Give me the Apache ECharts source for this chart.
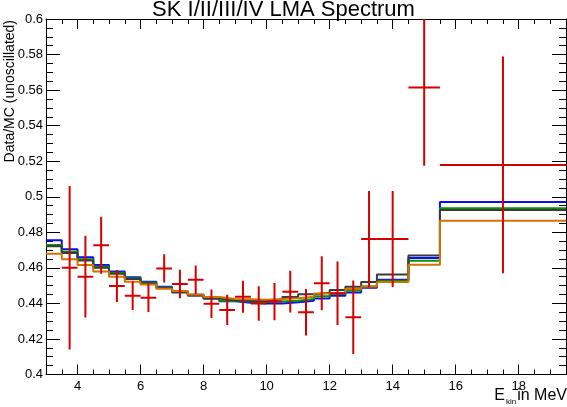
<!DOCTYPE html>
<html>
<head>
<meta charset="utf-8">
<script src="https://cdn.jsdelivr.net/npm/echarts@6/dist/echarts.min.js"></script>
<style>
    html, body { margin: 0; padding: 0; background: #fff; }
    #chart { width: 567px; height: 407px; }
</style>
</head>
<body>
<div id="chart"></div>
<script>
// bin edges of the MC histograms (MeV)
const binEdges = [3.0, 3.5, 4.0, 4.5, 5.0, 5.5, 6.0, 6.5, 7.0, 7.5, 8.0, 8.5, 9.0,
    9.5, 10.0, 10.5, 11.0, 11.5, 12.0, 12.5, 13.0, 13.5, 14.5, 15.5, 19.5];

// MC predictions, one value per bin
const blueMC = [0.4755, 0.4704, 0.4659, 0.4616, 0.4579, 0.4547, 0.4522, 0.4494, 0.4468, 0.4448,
    0.4428, 0.4412, 0.4404, 0.4400, 0.4400, 0.4406, 0.4415, 0.4428, 0.4443, 0.4462, 0.4488,
    0.4533, 0.4655, 0.4970];
const greenMC = [0.4729, 0.4691, 0.4648, 0.4607, 0.4573, 0.4541, 0.4518, 0.4490, 0.4467, 0.4447,
    0.4429, 0.4415, 0.4410, 0.4408, 0.4410, 0.4415, 0.4425, 0.4440, 0.4453, 0.4472, 0.4495,
    0.4528, 0.4640, 0.4935];
const blackMC = [0.4721, 0.4684, 0.4642, 0.4601, 0.4567, 0.4537, 0.4513, 0.4487, 0.4462, 0.4443,
    0.4428, 0.4418, 0.4414, 0.4414, 0.4424, 0.4436, 0.4451, 0.4460, 0.4475, 0.4494, 0.4520,
    0.4562, 0.4670, 0.4925];
const orangeMC = [0.4680, 0.4648, 0.4616, 0.4579, 0.4550, 0.4522, 0.4507, 0.4483, 0.4470, 0.4450,
    0.4436, 0.4425, 0.4423, 0.4420, 0.4425, 0.4429, 0.4438, 0.4456, 0.4460, 0.4481, 0.4495,
    0.4520, 0.4618, 0.4865];

// data points
const dataX = [3.75, 4.25, 4.75, 5.25, 5.75, 6.25, 6.75, 7.25, 7.75, 8.25, 8.75, 9.25, 9.75,
    10.25, 10.75, 11.25, 11.75, 12.25, 12.75, 13.25, 14.0, 15.0, 17.5];
const dataXErr = [0.25, 0.25, 0.25, 0.25, 0.25, 0.25, 0.25, 0.25, 0.25, 0.25, 0.25, 0.25, 0.25,
    0.25, 0.25, 0.25, 0.25, 0.25, 0.25, 0.25, 0.5, 0.5, 2.0];
const dataY = [0.4600, 0.4550, 0.4727, 0.4498, 0.4443, 0.4432, 0.4597, 0.4509, 0.4533, 0.4398,
    0.4363, 0.4438, 0.4400, 0.4410, 0.4466, 0.4350, 0.4513, 0.4457, 0.4322, 0.4762, 0.4762,
    0.5614, 0.5179];
const dataYErr = [0.046, 0.023, 0.016, 0.009, 0.008, 0.008, 0.008, 0.008, 0.008, 0.008,
    0.0085, 0.009, 0.0097, 0.0105, 0.0117, 0.0131, 0.0152, 0.0179, 0.0207, 0.027, 0.027,
    0.044, 0.061];

const majorX = [4, 6, 8, 10, 12, 14, 16, 18];
const font = 'Liberation Sans, Arial, sans-serif';

function stepData(vals) {
    let d = [];
    for (let i = 0; i < vals.length; i++) {
        d.push([binEdges[i], vals[i]]);
    }
    d.push([binEdges[binEdges.length - 1], vals[vals.length - 1]]);
    return d;
}

function histSeries(name, vals, color) {
    return {
        name: name,
        type: 'line',
        step: 'end',
        symbol: 'none',
        clip: true,
        xAxisIndex: 0,
        yAxisIndex: 0,
        lineStyle: { width: 2, color: color },
        itemStyle: { color: color },
        data: stepData(vals)
    };
}

const red = '#d60000';

let chart = echarts.init(document.getElementById('chart'));
let option = {
    animation: false,
    backgroundColor: '#fff',
    title: {
        text: 'SK I/II/III/IV LMA Spectrum',
        left: 'center',
        top: -1,
        padding: 0,
        textStyle: { fontSize: 22, fontWeight: 'normal', color: '#000', fontFamily: font }
    },
    grid: {
        left: 46,
        top: 19,
        width: 520,
        height: 355.5,
        containLabel: false,
        outerBoundsMode: 'none'
    },
    xAxis: [
        {
            type: 'value', min: 3, max: 19.5, position: 'bottom',
            axisLine: { show: true, lineStyle: { color: '#000', width: 1 } },
            axisTick: { show: true, inside: true, length: 10, customValues: majorX, lineStyle: { color: '#000' } },
            axisLabel: { show: true, customValues: majorX, fontSize: 13, color: '#000', fontFamily: font, margin: 5 },
            splitLine: { show: false }
        },
        {
            type: 'value', min: 3, max: 19.5, interval: 0.5, position: 'bottom',
            axisLine: { show: false },
            axisTick: { show: true, inside: true, length: 5, lineStyle: { color: '#000' } },
            axisLabel: { show: false },
            splitLine: { show: false }
        },
        {
            type: 'value', min: 3, max: 19.5, position: 'top',
            axisLine: { show: true, lineStyle: { color: '#000', width: 1 } },
            axisTick: { show: true, inside: true, length: 10, customValues: majorX, lineStyle: { color: '#000' } },
            axisLabel: { show: false },
            splitLine: { show: false }
        },
        {
            type: 'value', min: 3, max: 19.5, interval: 0.5, position: 'top',
            axisLine: { show: false },
            axisTick: { show: true, inside: true, length: 5, lineStyle: { color: '#000' } },
            axisLabel: { show: false },
            splitLine: { show: false }
        }
    ],
    yAxis: [
        {
            type: 'value', min: 0.4, max: 0.6, interval: 0.02, position: 'left',
            axisLine: { show: true, lineStyle: { color: '#000', width: 1 } },
            axisTick: { show: true, inside: true, length: 14, lineStyle: { color: '#000' } },
            minorTick: { show: true, splitNumber: 4, length: 7, lineStyle: { color: '#000' } },
            axisLabel: { fontSize: 13, color: '#000', fontFamily: font, margin: 3 },
            splitLine: { show: false },
            minorSplitLine: { show: false }
        },
        {
            type: 'value', min: 0.4, max: 0.6, interval: 0.02, position: 'right',
            axisLine: { show: true, lineStyle: { color: '#000', width: 1 } },
            axisTick: { show: true, inside: true, length: 14, lineStyle: { color: '#000' } },
            minorTick: { show: true, splitNumber: 4, length: 7, lineStyle: { color: '#000' } },
            axisLabel: { show: false },
            splitLine: { show: false },
            minorSplitLine: { show: false }
        }
    ],
    graphic: [
        {
            type: 'text',
            x: 3,
            y: 20,
            rotation: Math.PI / 2,
            style: {
                text: 'Data/MC (unoscillated)',
                fontSize: 14,
                fontFamily: font,
                fill: '#000',
                align: 'right',
                verticalAlign: 'top'
            }
        },
        {
            type: 'text',
            x: 567,
            y: 388,
            style: {
                text: '{e|E}{k|kin}{t|in MeV}',
                fontFamily: font,
                fill: '#000',
                align: 'right',
                verticalAlign: 'top',
                rich: {
                    e: { fontSize: 16, fontFamily: font, lineHeight: 18, verticalAlign: 'top' },
                    k: { fontSize: 8, fontFamily: font, lineHeight: 18, verticalAlign: 'bottom', padding: [0, 1, 0, 1] },
                    t: { fontSize: 16, fontFamily: font, lineHeight: 18, verticalAlign: 'top' }
                }
            }
        }
    ],
    series: [
        histSeries('blue', blueMC, '#0a0aff'),
        histSeries('green', greenMC, '#009600'),
        histSeries('black', blackMC, '#3a3a3a'),
        histSeries('orange', orangeMC, '#d87000'),
        {
            name: 'data',
            type: 'custom',
            xAxisIndex: 0,
            yAxisIndex: 0,
            clip: true,
            z: 5,
            encode: { x: 0, y: 1 },
            renderItem: function (params, api) {
                let x = api.value(0), y = api.value(1), xe = api.value(2), ye = api.value(3);
                let l = api.coord([x - xe, y]);
                let r = api.coord([x + xe, y]);
                let t = api.coord([x, y + ye]);
                let b = api.coord([x, y - ye]);
                let cs = params.coordSys;
                let top = Math.max(t[1], cs.y);
                let st = { stroke: red, lineWidth: 2 };
                return {
                    type: 'group',
                    children: [
                        { type: 'line', shape: { x1: l[0], y1: l[1], x2: r[0], y2: r[1] }, style: st },
                        { type: 'line', shape: { x1: t[0], y1: top, x2: b[0], y2: b[1] }, style: st }
                    ]
                };
            },
            data: dataX.map((x, i) => [x, dataY[i], dataXErr[i], dataYErr[i]])
        }
    ]
};
chart.setOption(option);
</script>
</body>
</html>
